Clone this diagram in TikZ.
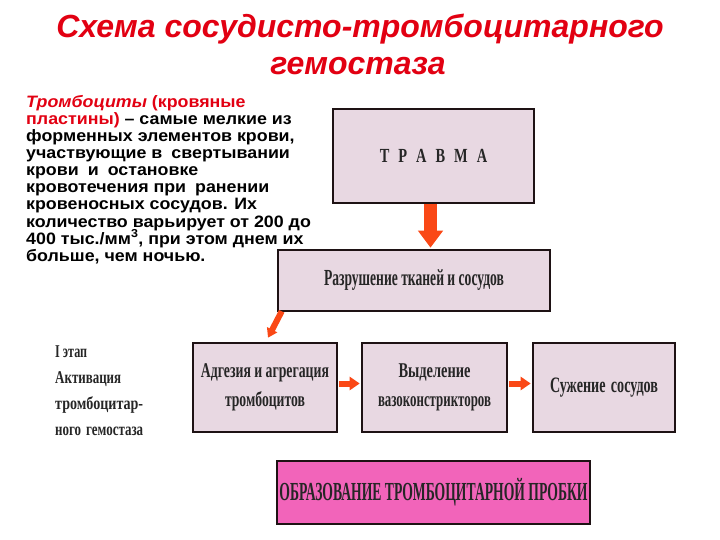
\documentclass[tikz,border=0pt]{standalone}
\usepackage{fontspec}
\usepackage{graphicx}
\setmainfont{Liberation Sans}
\newfontfamily\condfont[FakeStretch=0.72]{Liberation Serif}
\newfontfamily\parasans[FakeStretch=1.08]{Liberation Sans}
\usetikzlibrary{arrows.meta}
\definecolor{titlered}{RGB}{226,0,18}
\definecolor{boxfill}{RGB}{232,216,226}
\definecolor{boxline}{RGB}{30,18,20}
\definecolor{pinkfill}{RGB}{242,100,186}
\definecolor{arrowred}{RGB}{250,72,22}
\newcommand{\sq}[2]{\resizebox{#1}{\height}{#2}}
\newcommand{\parafont}{\parasans\bfseries\fontsize{16.5}{17.1}\selectfont\lineskiplimit=-20pt\relax\lineskip=0pt\relax}
\tikzset{
  box/.style={draw=boxline, line width=2.6pt, fill=boxfill, inner sep=0pt, align=center, text=black!85},
  fatarrow/.style={arrowred, line width=13pt, -{Triangle[length=17pt,width=24pt]}},
  smallarrow/.style={arrowred, line width=6pt, -{Triangle[length=10pt,width=13pt]}},
  diagarrow/.style={arrowred, line width=6pt, -{Triangle[length=9pt,width=11pt]}}
}
\begin{document}
\begin{tikzpicture}[x=1pt,y=-1pt]
\useasboundingbox[fill=white] (0,0) rectangle (720,540);

% title
\node[anchor=base, text=titlered, font=\bfseries\itshape\fontsize{32}{36}\selectfont, inner sep=0pt] (t1) at (360,38) {Схема сосудисто-тромбоцитарного};
\node[anchor=base, text=titlered, font=\bfseries\itshape\fontsize{32}{36}\selectfont, inner sep=0pt] (t2) at (358,75) {гемостаза};

% boxes
\node[box, minimum width=201pt, minimum height=94pt, font=\condfont\bfseries\fontsize{20}{20}\selectfont] (travma) at (433.5,156) {Т\hskip 9pt Р\hskip 9pt А\hskip 9pt В\hskip 9pt М\hskip 9pt А};
\node[box, minimum width=272pt, minimum height=61pt, font=\condfont\bfseries\fontsize{23}{23}\selectfont] (razr) at (414,280.5) {\sq{180pt}{Разрушение тканей и сосудов}};
\node[box, minimum width=144pt, minimum height=89pt, font=\condfont\bfseries\fontsize{21}{29}\selectfont] (adg) at (265,387.5) {\sq{128pt}{Адгезия и агрегация}\\ \sq{80pt}{тромбоцитов}};
\node[box, minimum width=145pt, minimum height=89pt, font=\condfont\bfseries\fontsize{21}{29}\selectfont] (vyd) at (434.5,387.5) {\sq{72pt}{Выделение}\\ \sq{113pt}{вазоконстрикторов}};
\node[box, minimum width=142pt, minimum height=89pt, font=\condfont\bfseries\fontsize{22}{22}\selectfont] (suzh) at (604,387.5) {\sq{108pt}{Сужение\hskip 6pt сосудов}};
\node[box, fill=pinkfill, minimum width=313pt, minimum height=63pt, font=\condfont\bfseries\fontsize{26}{26}\selectfont] (probka) at (433.5,492.5) {\sq{308pt}{ОБРАЗОВАНИЕ ТРОМБОЦИТАРНОЙ ПРОБКИ}};

% arrows
\draw[fatarrow] ([xshift=-3pt]travma.south) -- ([xshift=-3pt,yshift=1pt]travma.south |- razr.north);
\draw[diagarrow] ([xshift=5pt,yshift=1pt]razr.south west) -- ([xshift=3pt,yshift=4pt]adg.north);
\draw[smallarrow] ([xshift=1pt,yshift=4pt]adg.east) -- ([xshift=-1pt,yshift=4pt]vyd.west);
\draw[smallarrow] ([xshift=1pt,yshift=4pt]vyd.east) -- ([xshift=-1pt,yshift=4pt]suzh.west);

% stage label
\node[anchor=north west, inner sep=0pt, align=left, font=\condfont\bfseries\fontsize{18}{26}\selectfont, text=black!85] (stage) at (55,346) {\sq{32pt}{I этап}\\ \sq{66pt}{Активация}\\ \sq{88pt}{тромбоцитар-}\\ \sq{88pt}{ного\hskip 5pt гемостаза}};

% paragraph
\node[anchor=north west, inner sep=0pt, align=left, font=\parafont] (para) at (26,95) {%
\textcolor{titlered}{\itshape Тромбоциты} \textcolor{titlered}{(кровяные}\\
\textcolor{titlered}{пластины)} – самые мелкие из\\
форменных элементов крови,\\
участвующие в\hskip 9pt свертывании\\
крови\hskip 9pt и\hskip 9pt остановке\\
кровотечения при\hskip 9pt ранении\\
кровеносных сосудов. Их\\
количество варьирует от 200 до\\
400 тыс./мм\textsuperscript{3}, при этом днем их\\
больше, чем ночью.};
\end{tikzpicture}
\end{document}
